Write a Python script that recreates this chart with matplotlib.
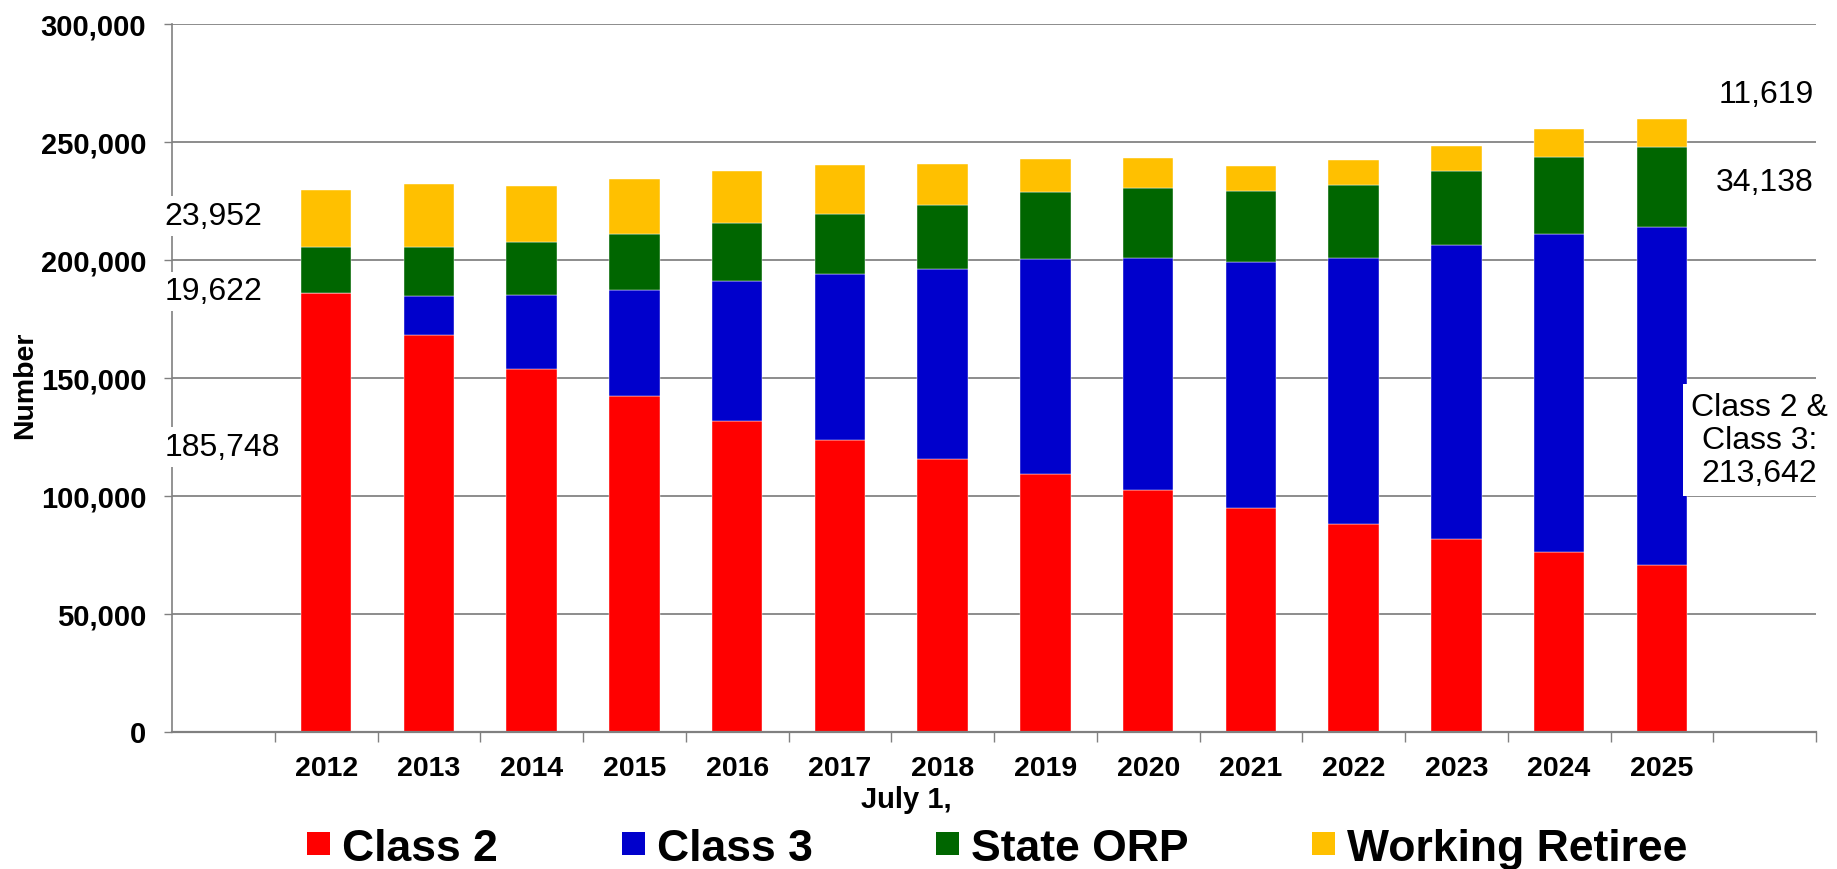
import matplotlib
matplotlib.use("Agg")
import matplotlib.pyplot as plt
import numpy as np
from matplotlib.patches import Patch
from matplotlib.ticker import FuncFormatter, FixedLocator

plt.rcParams['font.family'] = ['Liberation Sans', 'DejaVu Sans']

# ---------------- data ----------------
years = ['2012', '2013', '2014', '2015', '2016', '2017', '2018',
         '2019', '2020', '2021', '2022', '2023', '2024', '2025']
class2 = [185748, 167900, 153800, 142000, 131700, 123700, 115600,
          109200, 102400, 94900, 87900, 81600, 75900, 70600]
class3 = [0, 16700, 31200, 45000, 59000, 70000, 80500,
          90900, 98400, 104000, 112900, 124400, 134900, 143042]
state_orp = [19622, 20700, 22300, 24000, 24700, 25500, 26900,
             28400, 29600, 30000, 30600, 31300, 32700, 34138]
working_retiree = [23952, 26900, 24000, 22900, 22200, 20800, 17400,
                   14100, 12600, 10700, 10700, 11000, 11800, 11619]
series_names = ['Class 2', 'Class 3', 'State ORP', 'Working Retiree']
series_colors = ['#FF0000', '#0000CC', '#006600', '#FFC000']
y_ticks = [0, 50000, 100000, 150000, 200000, 250000, 300000]
x_label = 'July 1,'
y_label = 'Number'

# ---------------- figure ----------------
W, H = 1837, 870
fig = plt.figure(figsize=(W / 100, H / 100), dpi=100)
ax = fig.add_axes([172 / W, 1 - 732.5 / H, (1816 - 172) / W, (732.5 - 24.5) / H])

x = np.arange(1, len(years) + 1)
bw = 0.49
series = [class2, class3, state_orp, working_retiree]
bottom = np.zeros(len(years))
for vals, col in zip(series, series_colors):
    v = np.array(vals, dtype=float)
    ax.bar(x, v, bw, bottom=bottom, color=col, edgecolor='#ffffff',
           linewidth=0.3, zorder=2)
    bottom += v

ax.set_xlim(-0.5, len(years) + 1.5)
ax.set_ylim(0, 300000)

# y axis
ax.set_yticks(y_ticks)
ax.yaxis.set_major_formatter(FuncFormatter(lambda v, p: f"{int(v):,}"))
ax.tick_params(axis='y', direction='out', length=6, width=1, color='#808080',
               pad=12.5, labelsize=21)
for lab in ax.get_yticklabels():
    lab.set_fontweight('bold')
ax.grid(axis='y', color='#8c8c8c', linewidth=1.4, zorder=0)
ax.set_axisbelow(True)

# x axis: labels at bar centres, tick marks at category boundaries
ax.set_xticks(x)
ax.set_xticklabels(years, fontsize=20.5, fontweight='bold')
ax.tick_params(axis='x', which='major', length=0, pad=17)
ax.xaxis.set_minor_locator(FixedLocator(np.arange(0.5, len(years) + 2, 1.0)))
ax.tick_params(axis='x', which='minor', length=7, width=1, color='#808080',
               direction='out')

for s in ['top', 'right']:
    ax.spines[s].set_visible(False)
ax.spines['left'].set_color('#808080')
ax.spines['left'].set_linewidth(1.2)
ax.spines['bottom'].set_color('#808080')
ax.spines['bottom'].set_linewidth(1.6)

# axis titles
fig.text(25 / W, 1 - 385 / H, y_label, rotation=90, ha='center', va='center',
         fontsize=20.5, fontweight='bold')
fig.text(906 / W, 1 - 800 / H, x_label, ha='center', va='center',
         fontsize=21, fontweight='bold')

# annotations
box = dict(facecolor='white', edgecolor='none', boxstyle='square,pad=0.15')
ann_fs = 23
ax.text(-0.57, 218500, f"{working_retiree[0]:,}", ha='left', va='center',
        fontsize=ann_fs, bbox=box, zorder=5)
ax.text(-0.57, 186500, f"{state_orp[0]:,}", ha='left', va='center',
        fontsize=ann_fs, bbox=box, zorder=5)
ax.text(-0.57, 120500, f"{class2[0]:,}", ha='left', va='center',
        fontsize=ann_fs, bbox=box, zorder=5)
ax.text(15.48, 270000, f"{working_retiree[-1]:,}", ha='right', va='center',
        fontsize=ann_fs, zorder=5)
ax.text(15.48, 233000, f"{state_orp[-1]:,}", ha='right', va='center',
        fontsize=ann_fs, zorder=5)
ax.text(14.95, 123500, f"Class 2 &\nClass 3:\n{class2[-1] + class3[-1]:,}",
        ha='center', va='center', multialignment='center', fontsize=ann_fs,
        linespacing=1.15, bbox=dict(facecolor='white', edgecolor='none',
                                     boxstyle='square,pad=0.25'),
        zorder=5, clip_on=False)

# legend
handles = [Patch(facecolor=c, edgecolor='none') for c in series_colors]
fig.legend(handles, series_names, loc='center', bbox_to_anchor=(0.543, 0.0241),
           ncol=4, frameon=False, prop={'size': 32, 'weight': 'bold'},
           handlelength=0.52, handleheight=0.44, handletextpad=0.27,
           columnspacing=2.78, borderaxespad=0, borderpad=0)

fig.savefig('out.png', dpi=100)
